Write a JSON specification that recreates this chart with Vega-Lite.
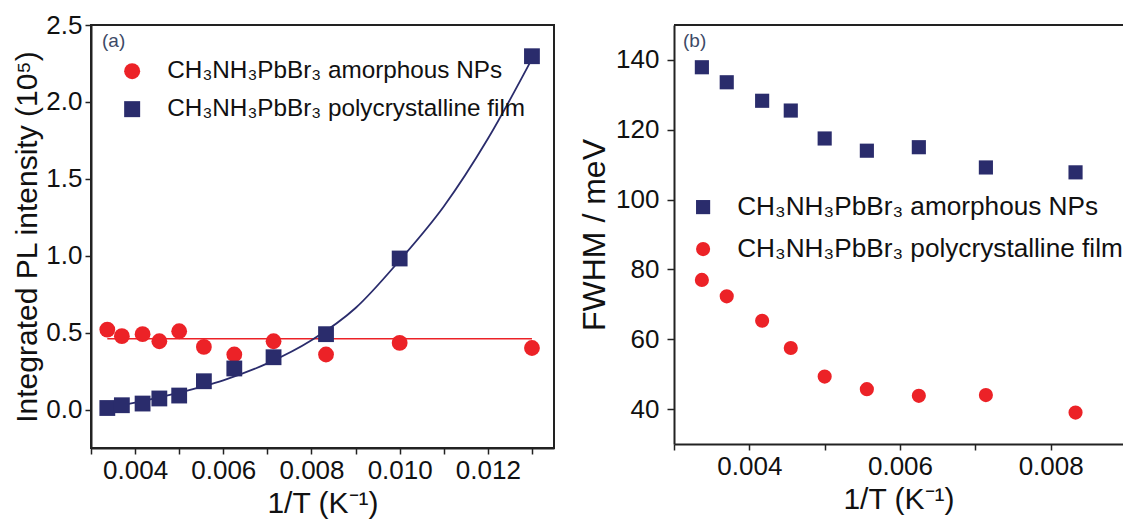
{
  "$schema": "https://vega.github.io/schema/vega-lite/v6.json",
  "padding": {"left": 11, "top": 11, "right": 0, "bottom": 0},
  "background": "white",
  "spacing": 23,
  "config": {
    "font": "Liberation Sans",
    "view": {"stroke": null},
    "axis": {
      "grid": false,
      "domainColor": "#222",
      "domainWidth": 2,
      "tickColor": "#222",
      "tickWidth": 1.5,
      "tickSize": 6,
      "labelColor": "#111",
      "titleColor": "#111",
      "labelFont": "Liberation Sans",
      "titleFont": "Liberation Sans",
      "labelFontSize": 26,
      "titleFontSize": 30,
      "titleFontWeight": "normal"
    },
    "legend": {
      "labelFont": "Liberation Sans",
      "labelColor": "#111",
      "labelLimit": 0,
      "padding": 0,
      "symbolStrokeWidth": 0
    }
  },
  "datasets": {
    "pl": [
      {"x": 0.00337, "y": 0.52, "series": "CH₃NH₃PbBr₃ amorphous NPs"},
      {"x": 0.0037, "y": 0.477, "series": "CH₃NH₃PbBr₃ amorphous NPs"},
      {"x": 0.00417, "y": 0.49, "series": "CH₃NH₃PbBr₃ amorphous NPs"},
      {"x": 0.00455, "y": 0.444, "series": "CH₃NH₃PbBr₃ amorphous NPs"},
      {"x": 0.005, "y": 0.509, "series": "CH₃NH₃PbBr₃ amorphous NPs"},
      {"x": 0.00556, "y": 0.407, "series": "CH₃NH₃PbBr₃ amorphous NPs"},
      {"x": 0.00625, "y": 0.358, "series": "CH₃NH₃PbBr₃ amorphous NPs"},
      {"x": 0.00714, "y": 0.444, "series": "CH₃NH₃PbBr₃ amorphous NPs"},
      {"x": 0.00833, "y": 0.358, "series": "CH₃NH₃PbBr₃ amorphous NPs"},
      {"x": 0.01, "y": 0.433, "series": "CH₃NH₃PbBr₃ amorphous NPs"},
      {"x": 0.013, "y": 0.40, "series": "CH₃NH₃PbBr₃ amorphous NPs"},
      {"x": 0.00337, "y": 0.01, "series": "CH₃NH₃PbBr₃ polycrystalline film"},
      {"x": 0.0037, "y": 0.028, "series": "CH₃NH₃PbBr₃ polycrystalline film"},
      {"x": 0.00417, "y": 0.039, "series": "CH₃NH₃PbBr₃ polycrystalline film"},
      {"x": 0.00455, "y": 0.072, "series": "CH₃NH₃PbBr₃ polycrystalline film"},
      {"x": 0.005, "y": 0.091, "series": "CH₃NH₃PbBr₃ polycrystalline film"},
      {"x": 0.00556, "y": 0.184, "series": "CH₃NH₃PbBr₃ polycrystalline film"},
      {"x": 0.00625, "y": 0.267, "series": "CH₃NH₃PbBr₃ polycrystalline film"},
      {"x": 0.00714, "y": 0.34, "series": "CH₃NH₃PbBr₃ polycrystalline film"},
      {"x": 0.00833, "y": 0.49, "series": "CH₃NH₃PbBr₃ polycrystalline film"},
      {"x": 0.01, "y": 0.982, "series": "CH₃NH₃PbBr₃ polycrystalline film"},
      {"x": 0.013, "y": 2.297, "series": "CH₃NH₃PbBr₃ polycrystalline film"}
    ],
    "fitA": [
      {"x": 0.00337, "y": 0.46},
      {"x": 0.013, "y": 0.46}
    ],
    "fitB": [
      {"x": 0.00337, "y": 0.012},
      {"x": 0.004, "y": 0.045},
      {"x": 0.005, "y": 0.11},
      {"x": 0.006, "y": 0.19},
      {"x": 0.007, "y": 0.30},
      {"x": 0.008, "y": 0.45},
      {"x": 0.009, "y": 0.66},
      {"x": 0.010, "y": 0.97},
      {"x": 0.011, "y": 1.32},
      {"x": 0.012, "y": 1.76},
      {"x": 0.013, "y": 2.28}
    ],
    "fwhm": [
      {"x": 0.00337, "y": 137.9, "series": "CH₃NH₃PbBr₃ amorphous NPs"},
      {"x": 0.0037, "y": 133.6, "series": "CH₃NH₃PbBr₃ amorphous NPs"},
      {"x": 0.00417, "y": 128.3, "series": "CH₃NH₃PbBr₃ amorphous NPs"},
      {"x": 0.00455, "y": 125.5, "series": "CH₃NH₃PbBr₃ amorphous NPs"},
      {"x": 0.005, "y": 117.5, "series": "CH₃NH₃PbBr₃ amorphous NPs"},
      {"x": 0.00556, "y": 114.0, "series": "CH₃NH₃PbBr₃ amorphous NPs"},
      {"x": 0.00625, "y": 115.0, "series": "CH₃NH₃PbBr₃ amorphous NPs"},
      {"x": 0.00714, "y": 109.2, "series": "CH₃NH₃PbBr₃ amorphous NPs"},
      {"x": 0.00833, "y": 107.8, "series": "CH₃NH₃PbBr₃ amorphous NPs"},
      {"x": 0.00337, "y": 77.0, "series": "CH₃NH₃PbBr₃ polycrystalline film"},
      {"x": 0.0037, "y": 72.3, "series": "CH₃NH₃PbBr₃ polycrystalline film"},
      {"x": 0.00417, "y": 65.3, "series": "CH₃NH₃PbBr₃ polycrystalline film"},
      {"x": 0.00455, "y": 57.5, "series": "CH₃NH₃PbBr₃ polycrystalline film"},
      {"x": 0.005, "y": 49.3, "series": "CH₃NH₃PbBr₃ polycrystalline film"},
      {"x": 0.00556, "y": 45.7, "series": "CH₃NH₃PbBr₃ polycrystalline film"},
      {"x": 0.00625, "y": 43.8, "series": "CH₃NH₃PbBr₃ polycrystalline film"},
      {"x": 0.00714, "y": 44.0, "series": "CH₃NH₃PbBr₃ polycrystalline film"},
      {"x": 0.00833, "y": 39.0, "series": "CH₃NH₃PbBr₃ polycrystalline film"}
    ]
  },
  "resolve": {"scale": {"x": "independent", "y": "independent", "color": "independent", "shape": "independent"}},
  "hconcat": [
    {
      "width": 463,
      "height": 423,
      "view": {"stroke": "#222", "strokeWidth": 2},
      "layer": [
        {
          "data": {"name": "fitA"},
          "mark": {"type": "line", "color": "#ec2227", "strokeWidth": 1.5},
          "encoding": {
            "x": {
              "field": "x", "type": "quantitative",
              "scale": {"domain": [0.003, 0.0135], "nice": false, "zero": false},
              "axis": {
                "title": "1/T (K⁻¹)",
                "values": [0.003, 0.004, 0.005, 0.006, 0.007, 0.008, 0.009, 0.010, 0.011, 0.012, 0.013],
                "format": ".3f",
                "labelExpr": "(round(datum.value * 1000) % 2 == 0) ? datum.label : ''",
                "labelPadding": 3,
                "labelFlush": false,
                "labelOverlap": false,
                "titlePadding": 5
              }
            },
            "y": {
              "field": "y", "type": "quantitative",
              "scale": {"domain": [-0.25, 2.5], "nice": false, "zero": false},
              "axis": {
                "title": "Integrated PL intensity (10⁵)",
                "values": [0, 0.5, 1, 1.5, 2, 2.5],
                "format": ".1f",
                "labelPadding": 3,
                "labelOverlap": false,
                "titlePadding": 3
              }
            }
          }
        },
        {
          "data": {"name": "fitB"},
          "mark": {"type": "line", "color": "#2a2c6c", "strokeWidth": 1.8, "interpolate": "monotone"},
          "encoding": {
            "x": {"field": "x", "type": "quantitative"},
            "y": {"field": "y", "type": "quantitative"}
          }
        },
        {
          "data": {"name": "pl"},
          "mark": {"type": "point", "filled": true, "opacity": 1, "size": 250},
          "encoding": {
            "x": {"field": "x", "type": "quantitative"},
            "y": {"field": "y", "type": "quantitative"},
            "color": {
              "field": "series", "type": "nominal",
              "scale": {"domain": ["CH₃NH₃PbBr₃ amorphous NPs", "CH₃NH₃PbBr₃ polycrystalline film"], "range": ["#ec2227", "#2a2c6c"]},
              "legend": {"title": null, "orient": "none", "legendX": 29, "legendY": 34, "labelFontSize": 24.3, "labelOffset": 23, "rowPadding": 13, "symbolSize": 256}
            },
            "shape": {
              "field": "series", "type": "nominal",
              "scale": {"domain": ["CH₃NH₃PbBr₃ amorphous NPs", "CH₃NH₃PbBr₃ polycrystalline film"], "range": ["circle", "square"]},
              "legend": {"title": null, "orient": "none", "legendX": 29, "legendY": 34, "labelFontSize": 24.3, "labelOffset": 23, "rowPadding": 13, "symbolSize": 256}
            }
          }
        },
        {
          "data": {"values": [{}]},
          "mark": {"type": "text", "text": "(a)", "align": "left", "baseline": "middle", "fontSize": 19, "color": "#3d4a66"},
          "encoding": {"x": {"datum": 0.00325}, "y": {"datum": 2.395}}
        }
      ]
    },
    {
      "width": 449,
      "height": 419,
      "layer": [
        {
          "data": {"name": "fwhm"},
          "mark": {"type": "point", "filled": true, "opacity": 1, "size": 200},
          "encoding": {
            "x": {
              "field": "x", "type": "quantitative",
              "scale": {"domain": [0.003, 0.00896], "nice": false, "zero": false},
              "axis": {
                "title": "1/T (K⁻¹)",
                "values": [0.003, 0.004, 0.005, 0.006, 0.007, 0.008],
                "format": ".3f",
                "labelExpr": "(round(datum.value * 1000) % 2 == 0) ? datum.label : ''",
                "labelPadding": 3,
                "labelFlush": false,
                "labelOverlap": false,
                "titlePadding": 5
              }
            },
            "y": {
              "field": "y", "type": "quantitative",
              "scale": {"domain": [30, 150], "nice": false, "zero": false},
              "axis": {
                "title": "FWHM / meV",
                "titleFontSize": 32,
                "values": [40, 60, 80, 100, 120, 140],
                "format": "d",
                "labelPadding": 8,
                "labelOverlap": false,
                "tickSize": 7,
                "titlePadding": 4
              }
            },
            "color": {
              "field": "series", "type": "nominal",
              "scale": {"domain": ["CH₃NH₃PbBr₃ amorphous NPs", "CH₃NH₃PbBr₃ polycrystalline film"], "range": ["#2a2c6c", "#ec2227"]},
              "legend": {"title": null, "orient": "none", "legendX": 16, "legendY": 169, "labelFontSize": 26.2, "labelOffset": 21, "rowPadding": 15, "symbolSize": 200}
            },
            "shape": {
              "field": "series", "type": "nominal",
              "scale": {"domain": ["CH₃NH₃PbBr₃ amorphous NPs", "CH₃NH₃PbBr₃ polycrystalline film"], "range": ["square", "circle"]},
              "legend": {"title": null, "orient": "none", "legendX": 16, "legendY": 169, "labelFontSize": 26.2, "labelOffset": 21, "rowPadding": 15, "symbolSize": 200}
            }
          }
        },
        {
          "data": {"values": [{}]},
          "mark": {"type": "rule", "color": "#222", "strokeWidth": 2},
          "encoding": {"y": {"datum": 150}, "x": {"datum": 0.003}, "x2": {"datum": 0.00896}}
        },
        {
          "data": {"values": [{}]},
          "mark": {"type": "text", "text": "(b)", "align": "left", "baseline": "middle", "fontSize": 19, "color": "#3d4a66"},
          "encoding": {"x": {"datum": 0.00312}, "y": {"datum": 145.3}}
        }
      ]
    }
  ]
}
